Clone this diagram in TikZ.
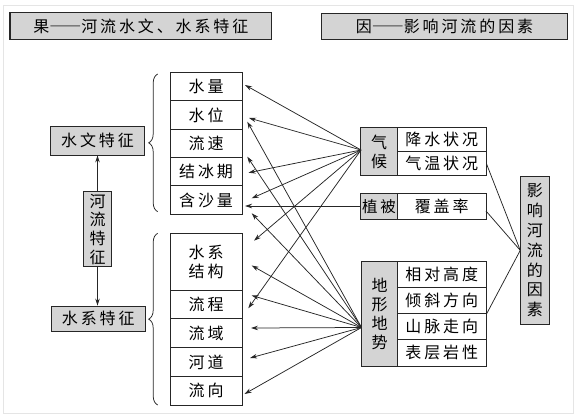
\documentclass[tikz,border=0pt]{standalone}
\usepackage{fontspec}
\setmainfont{Noto Sans CJK SC}[LetterSpace=18]
\newfontfamily\fwdash{Noto Sans CJK SC}[RawFeature=+fwid]
\usetikzlibrary{arrows.meta,decorations.pathreplacing}
\begin{document}
\begin{tikzpicture}[x=1pt,y=-1pt,
  box/.style={draw=black!85,line width=0.9pt,inner sep=0pt,font=\fontsize{16}{19}\selectfont,align=center},
  gbox/.style={box,fill=black!17},
  arr/.style={draw=black!85,line width=0.75pt,-{Stealth[length=7pt,width=4.5pt]}},
  ln/.style={draw=black!85,line width=0.75pt},
]
\useasboundingbox (0,0) rectangle (585,417);
\draw[black!10,line width=0.8pt] (3,5) rectangle (573,413);

% titles
\node[gbox,line width=1.1pt,minimum width=261.7pt,minimum height=26.6pt] (t1) at (140.8,26) {果{\fwdash ——}河流水文、水系特征};
\node[gbox,line width=1.1pt,minimum width=245.6pt,minimum height=26pt] (t2) at (444.5,26.3) {因{\fwdash ——}影响河流的因素};

% left column
\node[gbox,minimum width=93.6pt,minimum height=28.3pt] (swtz) at (97.5,140.85) {水文特征};
\node[gbox,minimum width=93.3pt,minimum height=25.7pt] (sxtz) at (98.3,318.85) {水系特征};
\node[gbox,font=\fontsize{16}{18.7}\selectfont,minimum width=28.4pt,minimum height=75pt] (hltz) at (97.5,229.2) {河\\流\\特\\征};
\draw[arr] (hltz.north) -- (hltz.north |- swtz.south);
\draw[arr] (hltz.south) -- (hltz.south |- sxtz.north);

% braces
\draw[ln,decorate,decoration={brace,amplitude=9pt}] (157.7,211.7) -- (157.7,74);
\draw[ln,decorate,decoration={brace,amplitude=9pt}] (157.7,405) -- (157.7,233.3);

% middle column
\node[box,minimum width=72.3pt,minimum height=28.4pt] (m1) at (206.1,86.5) {水量};
\node[box,minimum width=72.3pt,minimum height=28.4pt] (m2) at (206.1,114.9) {水位};
\node[box,minimum width=72.3pt,minimum height=28.4pt] (m3) at (206.1,143.3) {流速};
\node[box,minimum width=72.3pt,minimum height=28.4pt] (m4) at (206.1,171.7) {结冰期};
\node[box,minimum width=72.3pt,minimum height=28.4pt] (m5) at (206.1,200.1) {含沙量};
\node[box,minimum width=72.3pt,minimum height=56.7pt] (n1) at (206.1,261.65) {水系\\结构};
\node[box,minimum width=72.3pt,minimum height=28.75pt] (n2) at (206.1,304.4) {流程};
\node[box,minimum width=72.3pt,minimum height=28.75pt] (n3) at (206.1,333.1) {流域};
\node[box,minimum width=72.3pt,minimum height=28.75pt] (n4) at (206.1,361.9) {河道};
\node[box,minimum width=72.3pt,minimum height=28.75pt] (n5) at (206.1,390.6) {流向};

% right column
\node[gbox,minimum width=37pt,minimum height=48.4pt] (qh) at (379,151.5) {气\\候};
\node[box,minimum width=88.5pt,minimum height=24.4pt] (js) at (441.75,139.5) {降水状况};
\node[box,minimum width=88.5pt,minimum height=24pt] (qw) at (441.75,163.7) {气温状况};
\node[gbox,font=\fontsize{15.5}{19}\selectfont,minimum width=37pt,minimum height=26pt] (zb) at (379,206.3) {植被};
\node[box,minimum width=88.5pt,minimum height=26pt] (fg) at (441.75,206.3) {覆盖率};
\node[gbox,minimum width=36pt,minimum height=104.6pt] (dx) at (379.5,313.7) {地\\形\\地\\势};
\node[box,minimum width=88.5pt,minimum height=26.15pt] (r1) at (441.75,274.5) {相对高度};
\node[box,minimum width=88.5pt,minimum height=26.15pt] (r2) at (441.75,300.6) {倾斜方向};
\node[box,minimum width=88.5pt,minimum height=26.15pt] (r3) at (441.75,326.8) {山脉走向};
\node[box,minimum width=88.5pt,minimum height=26.15pt] (r4) at (441.75,352.9) {表层岩性};
\node[gbox,font=\fontsize{16}{19.8}\selectfont,minimum width=28.3pt,minimum height=147.3pt] (yx) at (534.85,250.35) {影\\响\\河\\流\\的\\因\\素};

% convergence points and arrow tips
\coordinate (qhc) at (361,150);
\coordinate (dxc) at (361.5,327.5);
\coordinate (a1) at (245,85);
\coordinate (a2) at (249,118);
\coordinate (a3) at (248.5,172.7);
\coordinate (a4) at (251.7,198.3);
\coordinate (a5) at (254,240.7);
\coordinate (a6) at (248.3,308.3);
\coordinate (zt) at (245,206);
\coordinate (b1) at (247.3,121.7);
\coordinate (b2) at (247.3,156.7);
\coordinate (b3) at (251.7,213.3);
\coordinate (b4) at (251.7,265.5);
\coordinate (b5) at (251.7,295.5);
\coordinate (b6) at (251,328);
\coordinate (b7) at (250,358);
\coordinate (b8) at (244.5,394);

\foreach \t in {a1,a2,a3,a4,a5,a6} \draw[arr] (qhc) -- (\t);
\draw[arr] (zb.west |- zt) -- (zt);
\foreach \t in {b1,b2,b3,b4,b5,b6,b7,b8} \draw[arr] (dxc) -- (\t);

% lines to the factor box
\coordinate (fgs) at (486,211);
\draw[ln] (qw.east) -- (yx.west);
\draw[ln] (fgs) -- (yx.west);
\draw[ln] (r2.south east) -- (yx.west);
\end{tikzpicture}
\end{document}
